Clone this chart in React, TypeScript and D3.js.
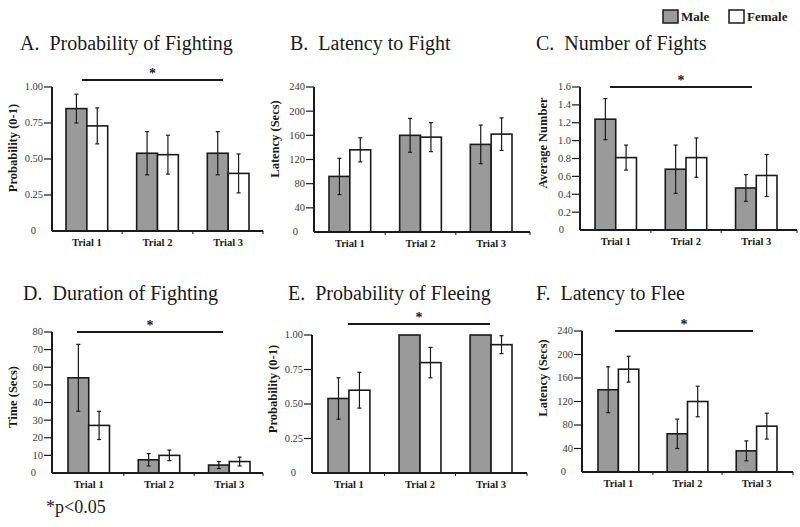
import React from "react";
import * as d3 from "d3";

const trials = ["Trial 1", "Trial 2", "Trial 3"];
const seriesNames = ["Male", "Female"];

// A. Probability of Fighting
const fightProbMale = [0.85, 0.54, 0.54];
const fightProbMaleErr = [0.1, 0.15, 0.15];
const fightProbFemale = [0.73, 0.53, 0.4];
const fightProbFemaleErr = [0.125, 0.135, 0.135];
const probTicks = [0, 0.25, 0.5, 0.75, 1.0];

// B. Latency to Fight
const fightLatMale = [92, 160, 145];
const fightLatMaleErr = [30, 28, 32];
const fightLatFemale = [136, 157, 162];
const fightLatFemaleErr = [20, 24, 27];
const latencyTicks = [0, 40, 80, 120, 160, 200, 240];

// C. Number of Fights
const fightNumMale = [1.24, 0.68, 0.47];
const fightNumMaleErr = [0.23, 0.27, 0.15];
const fightNumFemale = [0.81, 0.81, 0.61];
const fightNumFemaleErr = [0.14, 0.22, 0.235];
const numberTicks = [0, 0.2, 0.4, 0.6, 0.8, 1.0, 1.2, 1.4, 1.6];

// D. Duration of Fighting
const fightDurMale = [54, 7.5, 4.5];
const fightDurMaleErr = [19, 3.5, 2];
const fightDurFemale = [27, 10, 6.5];
const fightDurFemaleErr = [8, 3, 2.5];
const durationTicks = [0, 10, 20, 30, 40, 50, 60, 70, 80];

// E. Probability of Fleeing
const fleeProbMale = [0.54, 1.0, 1.0];
const fleeProbMaleErr = [0.15, 0, 0];
const fleeProbFemale = [0.6, 0.8, 0.93];
const fleeProbFemaleErr = [0.13, 0.11, 0.065];

// F. Latency to Flee
const fleeLatMale = [140, 65, 36];
const fleeLatMaleErr = [39, 25, 17];
const fleeLatFemale = [175, 120, 78];
const fleeLatFemaleErr = [22, 26, 22];

const SERIF = "'Liberation Serif', 'Times New Roman', serif";
const INK = "#1a1a1a";
const MALE_FILL = "#9a9a9a";

type Panel = {
  title: string;
  yLabel: string;
  male: number[];
  maleErr: number[];
  female: number[];
  femaleErr: number[];
  ticks: number[];
  fmt: (v: number) => string;
  sig: boolean;
  axisX: number;
  yTop: number;
  yBot: number;
  xEnd: number;
  barsStart: number;
  barsEnd: number;
  titleX: number;
  titleY: number;
  labelX: number;
  labelY: number;
  sigX1?: number;
  sigX2?: number;
  sigY?: number;
};

const fmtProb = (v: number) => (v === 0 ? "0" : d3.format(".2f")(v));
const fmtInt = (v: number) => String(v);
const fmtOne = (v: number) => (v === 0 ? "0" : d3.format(".1f")(v));

const panels: Panel[] = [
  {
    title: "A.\u00a0 Probability of Fighting", yLabel: "Probability (0-1)",
    male: fightProbMale, maleErr: fightProbMaleErr, female: fightProbFemale, femaleErr: fightProbFemaleErr,
    ticks: probTicks, fmt: fmtProb, sig: true,
    axisX: 52, yTop: 87, yBot: 231, xEnd: 263, barsStart: 66, barsEnd: 249,
    titleX: 20, titleY: 50, labelX: 17, labelY: 148, sigX1: 82, sigX2: 223, sigY: 80,
  },
  {
    title: "B.\u00a0 Latency to Fight", yLabel: "Latency (Secs)",
    male: fightLatMale, maleErr: fightLatMaleErr, female: fightLatFemale, femaleErr: fightLatFemaleErr,
    ticks: latencyTicks, fmt: fmtInt, sig: false,
    axisX: 314, yTop: 87, yBot: 232, xEnd: 530, barsStart: 329, barsEnd: 512,
    titleX: 290, titleY: 50, labelX: 279, labelY: 139,
  },
  {
    title: "C.\u00a0 Number of Fights", yLabel: "Average Number",
    male: fightNumMale, maleErr: fightNumMaleErr, female: fightNumFemale, femaleErr: fightNumFemaleErr,
    ticks: numberTicks, fmt: fmtOne, sig: true,
    axisX: 580, yTop: 87, yBot: 230, xEnd: 797, barsStart: 595, barsEnd: 777,
    titleX: 536, titleY: 50, labelX: 547, labelY: 143, sigX1: 610, sigX2: 752, sigY: 87,
  },
  {
    title: "D.\u00a0 Duration of Fighting", yLabel: "Time (Secs)",
    male: fightDurMale, maleErr: fightDurMaleErr, female: fightDurFemale, femaleErr: fightDurFemaleErr,
    ticks: durationTicks, fmt: fmtInt, sig: true,
    axisX: 52, yTop: 332, yBot: 473, xEnd: 263, barsStart: 68, barsEnd: 250,
    titleX: 23, titleY: 300, labelX: 17, labelY: 397, sigX1: 77, sigX2: 223, sigY: 332,
  },
  {
    title: "E.\u00a0 Probability of Fleeing", yLabel: "Probability (0-1)",
    male: fleeProbMale, maleErr: fleeProbMaleErr, female: fleeProbFemale, femaleErr: fleeProbFemaleErr,
    ticks: probTicks, fmt: fmtProb, sig: true,
    axisX: 312, yTop: 335, yBot: 473, xEnd: 527, barsStart: 328, barsEnd: 512,
    titleX: 288, titleY: 300, labelX: 277, labelY: 389, sigX1: 348, sigX2: 490, sigY: 324,
  },
  {
    title: "F.\u00a0 Latency to Flee", yLabel: "Latency (Secs)",
    male: fleeLatMale, maleErr: fleeLatMaleErr, female: fleeLatFemale, femaleErr: fleeLatFemaleErr,
    ticks: latencyTicks, fmt: fmtInt, sig: true,
    axisX: 582, yTop: 331, yBot: 472, xEnd: 793, barsStart: 598, barsEnd: 777,
    titleX: 536, titleY: 300, labelX: 547, labelY: 378, sigX1: 615, sigX2: 753, sigY: 331,
  },
];

function PanelView({ p }: { p: Panel }) {
  const maxTick = p.ticks[p.ticks.length - 1];
  const y = d3.scaleLinear().domain([0, maxTick]).range([p.yBot, p.yTop]);
  const x = d3.scaleBand<string>().domain(trials).range([p.barsStart, p.barsEnd]).paddingInner(0.41).paddingOuter(0);
  const sub = d3.scaleBand<string>().domain(seriesNames).range([0, x.bandwidth()]);
  const series = [
    { name: "Male", vals: p.male, errs: p.maleErr, fill: MALE_FILL },
    { name: "Female", vals: p.female, errs: p.femaleErr, fill: "#ffffff" },
  ];
  const gap = x.step() - x.bandwidth();
  const boundaries = [x("Trial 2")! - gap / 2, x("Trial 3")! - gap / 2];
  return (
    <g>
      <text x={p.titleX} y={p.titleY} fontFamily={SERIF} fontSize={20} fill={INK}>{p.title}</text>
      <text transform={`translate(${p.labelX},${p.labelY}) rotate(-90)`} textAnchor="middle"
        fontFamily={SERIF} fontWeight="bold" fontSize={12.5} fill={INK}>{p.yLabel}</text>
      {series.map((s) =>
        trials.map((t, i) => {
          const bx = x(t)! + sub(s.name)!;
          const bw = sub.bandwidth();
          const top = y(s.vals[i]);
          const cx = bx + bw / 2;
          const e = s.errs[i];
          return (
            <g key={s.name + t}>
              <rect x={bx} y={top} width={bw} height={p.yBot - top} fill={s.fill} stroke={INK} strokeWidth={1.6} />
              {e > 0 && (
                <g stroke={INK} strokeWidth={1.2}>
                  <line x1={cx} x2={cx} y1={y(s.vals[i] - e)} y2={y(s.vals[i] + e)} />
                  <line x1={cx - 2} x2={cx + 2} y1={y(s.vals[i] - e)} y2={y(s.vals[i] - e)} />
                  <line x1={cx - 2} x2={cx + 2} y1={y(s.vals[i] + e)} y2={y(s.vals[i] + e)} />
                </g>
              )}
            </g>
          );
        })
      )}
      {/* y axis */}
      <line x1={p.axisX} x2={p.axisX} y1={p.yTop} y2={p.yBot} stroke={INK} strokeWidth={2} />
      {p.ticks.map((t) => (
        <g key={t}>
          {t !== 0 && <line x1={p.axisX - 8} x2={p.axisX} y1={y(t)} y2={y(t)} stroke={INK} strokeWidth={1.2} />}
          <text x={p.axisX - (t === 0 ? 16 : 9)} y={y(t)} dy="0.33em" textAnchor="end" fontFamily={SERIF}
            fontSize={10.5} fill="#3a3a3a">{p.fmt(t)}</text>
        </g>
      ))}
      {/* x axis */}
      <line x1={p.axisX} x2={p.xEnd} y1={p.yBot} y2={p.yBot} stroke={INK} strokeWidth={2} />
      {[...boundaries, p.xEnd].map((bx, i) => (
        <line key={i} x1={bx} x2={bx} y1={p.yBot} y2={p.yBot + 3} stroke={INK} strokeWidth={1} />
      ))}
      {trials.map((t) => (
        <text key={t} x={x(t)! + x.bandwidth() / 2} y={p.yBot + 15} textAnchor="middle" fontFamily={SERIF}
          fontWeight="bold" fontSize={10.5} fill={INK}>{t}</text>
      ))}
      {p.sig && (
        <g>
          <line x1={p.sigX1} x2={p.sigX2} y1={p.sigY} y2={p.sigY} stroke={INK} strokeWidth={2} />
          <text x={(p.sigX1! + p.sigX2!) / 2} y={p.sigY! - 2} textAnchor="middle" fontFamily={SERIF}
            fontWeight="bold" fontSize={14} fill={INK}>*</text>
        </g>
      )}
    </g>
  );
}

export default function App() {
  return (
    <svg width={800} height={527} style={{ display: "block", position: "absolute", left: 0, top: 0, background: "#fff" }}>
      <rect width={800} height={527} fill="#fff" />
      {panels.map((p) => (
        <PanelView key={p.title} p={p} />
      ))}
      {/* legend */}
      <rect x={663} y={10} width={15} height={13} fill={MALE_FILL} stroke={INK} strokeWidth={1.5} />
      <text x={681} y={21} fontFamily={SERIF} fontWeight="bold" fontSize={13} fill={INK}>{seriesNames[0]}</text>
      <rect x={729} y={10} width={15} height={13} fill="#fff" stroke={INK} strokeWidth={1.5} />
      <text x={747} y={21} fontFamily={SERIF} fontWeight="bold" fontSize={13} fill={INK}>{seriesNames[1]}</text>
      <text x={46} y={513} fontFamily={SERIF} fontSize={18} fill={INK}>*p&lt;0.05</text>
    </svg>
  );
}
